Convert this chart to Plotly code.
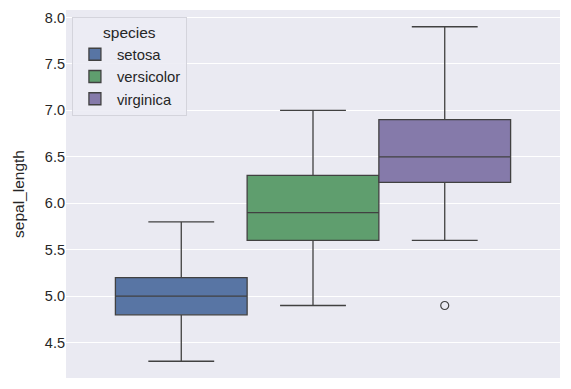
import plotly.graph_objects as go

species = ["setosa", "versicolor", "virginica"]
q1 = [4.8, 5.6, 6.225]
median = [5.0, 5.9, 6.5]
q3 = [5.2, 6.3, 6.9]
lower = [4.3, 4.9, 5.6]
upper = [5.8, 7.0, 7.9]
outlier_species = ["virginica"]
outlier_values = [4.9]
colors = ["#5875A4", "#5F9E6E", "#857AAA"]

box_w = 0.8 / 3
offsets = {s: (i - 1) * box_w for i, s in enumerate(species)}
line_col = "#414141"

fig = go.Figure()
for i, s in enumerate(species):
    fig.add_trace(go.Box(
        name=s, x=[offsets[s]], q1=[q1[i]], median=[median[i]], q3=[q3[i]],
        lowerfence=[lower[i]], upperfence=[upper[i]],
        width=box_w, whiskerwidth=0.5, fillcolor=colors[i],
        line=dict(color=line_col, width=1.3), boxpoints=False,
        hoverinfo="skip",
    ))
fig.add_trace(go.Scatter(
    x=[offsets[s] for s in outlier_species], y=outlier_values, mode="markers",
    marker=dict(symbol="circle-open", size=8, color=line_col, line=dict(width=1.2)),
    showlegend=False, hoverinfo="skip",
))

font = "Liberation Sans, Arial, sans-serif"
fig.update_layout(
    width=571, height=389,
    margin=dict(l=66, r=11, t=10, b=11),
    paper_bgcolor="white", plot_bgcolor="#EAEAF2",
    font=dict(family=font, size=14.5, color="#262626"),
    showlegend=True,
    legend=dict(
        title=dict(text="species", font=dict(size=15.5), side="top center"),
        x=0.012, y=0.981, xanchor="left", yanchor="top",
        bgcolor="rgba(236,236,244,0.9)", bordercolor="#D4D4DC", borderwidth=1,
        font=dict(size=14.8), itemwidth=34,
    ),
    xaxis=dict(range=[-0.5, 0.5], showticklabels=False, showgrid=False,
               zeroline=False, ticks=""),
    yaxis=dict(range=[4.12, 8.08], tickvals=[4.5, 5.0, 5.5, 6.0, 6.5, 7.0, 7.5, 8.0],
               ticktext=["4.5", "5.0", "5.5", "6.0", "6.5", "7.0", "7.5", "8.0"],
               showgrid=True, gridcolor="white", gridwidth=1, zeroline=False,
               ticks="", title=dict(text="sepal_length", font=dict(size=15.5), standoff=16)),
)
fig.write_html("out.html")
